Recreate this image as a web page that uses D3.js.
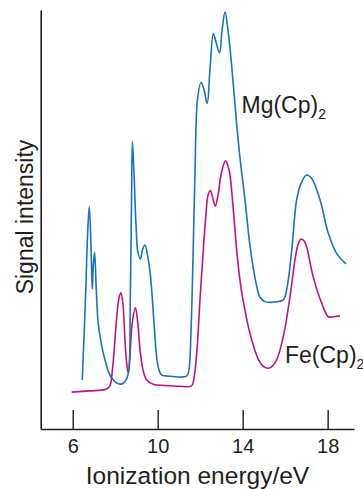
<!DOCTYPE html>
<html><head><meta charset="utf-8">
<script src="https://cdn.jsdelivr.net/npm/d3@7/dist/d3.min.js"></script>
<style>
html,body{margin:0;padding:0;background:#fff;}
svg{display:block;font-family:"Liberation Sans",Arial,sans-serif;}
</style></head>
<body>
<svg id="chart" width="363" height="489"></svg>
<script>
// Ionization energy (eV) and signal intensity (arbitrary units, 0-100)
const mgEnergy = [6.45,6.60,6.70,6.78,6.86,6.92,6.97,7.03,7.11,7.20,7.36,7.52,7.84,8.26,8.51,8.64,8.71,8.77,8.81,8.88,8.98,9.07,9.19,9.28,9.40,9.52,9.64,9.75,9.85,9.95,10.06,10.19,10.58,11.36,11.47,11.57,11.66,11.76,11.87,12.04,12.16,12.33,12.46,12.62,12.74,12.91,13.03,13.17,13.31,13.50,13.68,13.87,14.11,14.34,14.63,14.81,15.05,15.52,15.91,16.07,16.31,16.54,16.78,17.01,17.25,17.64,18.03,18.42,18.86];
const mgSignal = [11.7,30.8,46.3,53.1,43.9,33.4,39.1,42.2,33.2,25.3,20.0,16.5,12.1,10.7,11.7,14.1,30.8,54.7,68.6,61.8,48.7,42.2,40.6,42.7,43.9,41.5,37.5,31.0,23.6,17.3,14.1,12.9,12.6,12.6,14.1,23.6,40.3,61.8,78.5,82.7,81.4,77.7,85.7,94.4,92.4,89.8,95.2,99.5,95.2,85.7,74.9,64.9,54.7,43.9,34.8,31.5,30.4,30.3,30.8,33.2,42.7,54.7,59.0,60.6,59.8,54.7,46.7,41.9,39.4];

const feEnergy = [5.95,6.81,7.52,7.68,7.78,7.87,7.97,8.07,8.18,8.27,8.37,8.46,8.55,8.62,8.70,8.79,8.95,9.05,9.17,9.31,9.48,9.79,10.34,11.05,11.60,11.71,11.85,11.99,12.13,12.27,12.37,12.48,12.58,12.71,12.84,12.98,13.19,13.36,13.54,13.72,13.87,14.01,14.34,14.73,14.96,15.20,15.40,15.60,15.91,16.23,16.46,16.60,16.74,16.89,17.01,17.32,17.72,18.03,18.30,18.58];
const feSignal = [8.8,9.1,9.4,9.8,10.7,14.1,20.0,26.5,31.3,32.5,29.6,21.2,15.3,13.3,17.7,24.8,28.9,26.0,18.9,14.1,11.7,10.7,10.4,10.2,10.3,12.2,18.9,30.8,41.5,51.1,55.8,56.9,55.4,53.2,55.8,60.6,64.0,61.8,53.5,42.7,35.6,31.0,22.9,16.7,15.0,14.5,15.0,16.5,22.0,31.6,40.3,43.9,45.3,44.9,43.5,36.3,30.0,26.8,26.8,27.0];

const xTicks = [6, 10, 14, 18];
const xDomain = [4.494, 19.24];
const yDomain = [0, 100];
const seriesNames = ["Mg(Cp)", "Fe(Cp)"];

const svg = d3.select("#chart");
const ink = "#231f20";
const x = d3.scaleLinear().domain(xDomain).range([40.7, 354]);
const y = d3.scaleLinear().domain(yDomain).range([429, 10]);

// x axis (ticks pointing up)
const xAxis = d3.axisBottom(x).tickValues(xTicks).tickFormat(d3.format("d"))
  .tickSizeInner(-19).tickSizeOuter(0).tickPadding(9);
const gx = svg.append("g").attr("transform", `translate(0,${y(0)})`).call(xAxis);
gx.select(".domain").attr("stroke", ink).attr("stroke-width", 1.6);
gx.selectAll(".tick line").attr("stroke", ink).attr("stroke-width", 1.4);
gx.selectAll(".tick text").attr("fill", ink).attr("font-size", 20)
  .attr("font-family", '"Liberation Sans",Arial,sans-serif').attr("y", 9).attr("dy", "0.74em");

// y axis (line only)
const yAxis = d3.axisLeft(y).tickValues([]).tickSizeOuter(0);
const gy = svg.append("g").attr("transform", `translate(${x(xDomain[0])},0)`).call(yAxis);
gy.select(".domain").attr("stroke", ink).attr("stroke-width", 1.6);

// lines
const line = d3.line().x(d => x(d[0])).y(d => y(d[1])).curve(d3.curveCatmullRom.alpha(0.5));
const mgData = mgEnergy.map((e, i) => [e, mgSignal[i]]);
const feData = feEnergy.map((e, i) => [e, feSignal[i]]);

svg.append("path").datum(feData).attr("d", line)
  .attr("fill", "none").attr("stroke", "#c0157f").attr("stroke-width", 1.6);
svg.append("path").datum(mgData).attr("d", line)
  .attr("fill", "none").attr("stroke", "#1a73c0").attr("stroke-width", 1.6);

// axis titles
svg.append("text").attr("x", 197.5).attr("y", 484).attr("text-anchor", "middle")
  .attr("font-size", 24.5).attr("fill", ink).text("Ionization energy/eV");
svg.append("text").attr("transform", "translate(33,217) rotate(-90)").attr("text-anchor", "middle")
  .attr("font-size", 23).attr("fill", ink).text("Signal intensity");

// series labels
function label(xp, yp, name) {
  const t = svg.append("text").attr("x", xp).attr("y", yp).attr("font-size", 23).attr("fill", ink);
  t.append("tspan").text(name);
  t.append("tspan").attr("font-size", 14).attr("dy", 6).text("2");
}
label(241.5, 113.3, seriesNames[0]);
label(285, 363.3, seriesNames[1]);
</script>
</body></html>
